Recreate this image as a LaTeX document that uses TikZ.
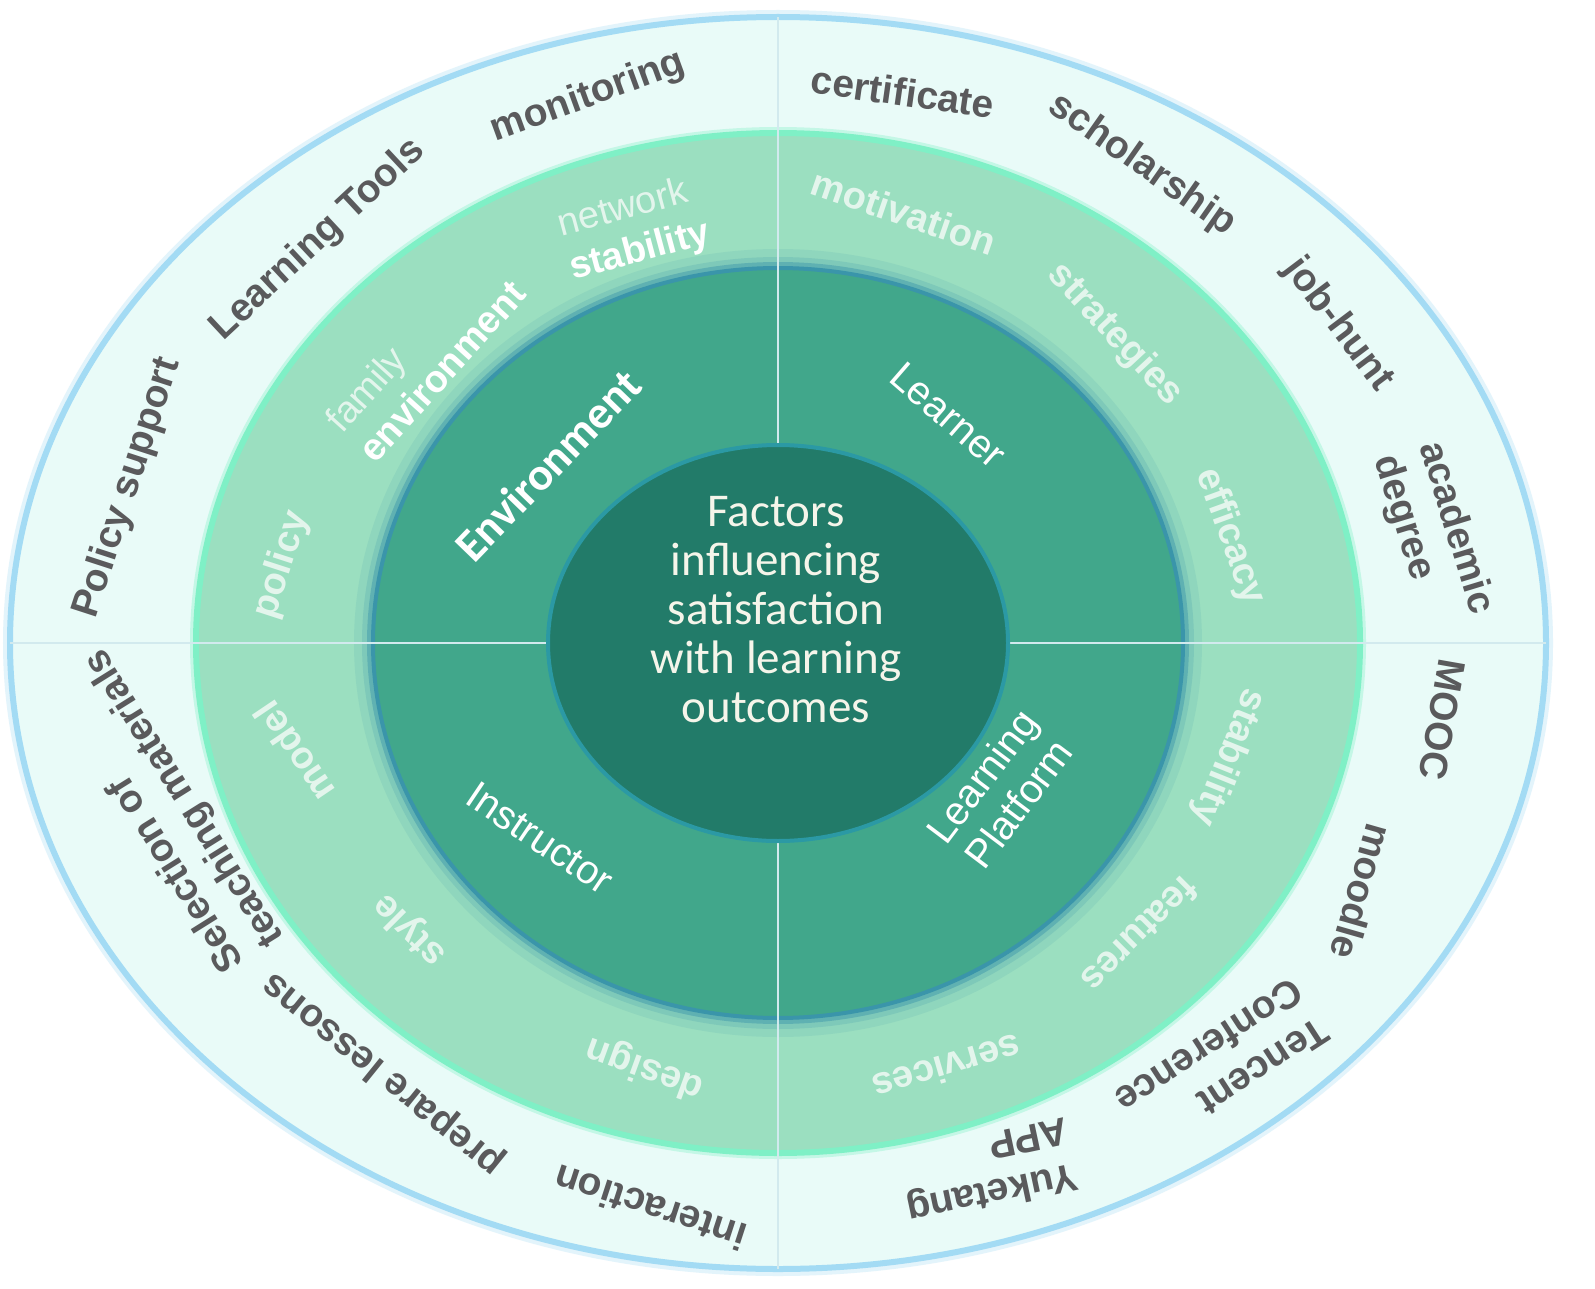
\documentclass[tikz,border=0pt]{standalone}
\usepackage{fontspec}
\setmainfont{Liberation Sans}
\newfontfamily\calibri{Carlito}
\usetikzlibrary{shapes.geometric}
\definecolor{skyline}{HTML}{A3DBF4}
\definecolor{outerfill}{HTML}{E9FBF8}
\definecolor{midfill}{HTML}{9BDFC0}
\definecolor{mintline}{HTML}{7FF0C6}
\definecolor{innerfill}{HTML}{41A78B}
\definecolor{innerglow}{HTML}{3A95AA}
\definecolor{corefill}{HTML}{227B69}
\definecolor{coreline}{HTML}{2B99A4}
\definecolor{crossline}{HTML}{D2EAEE}
\definecolor{outertext}{HTML}{5A5A5C}
\definecolor{midtext}{HTML}{E3F5EC}
\definecolor{coretext}{HTML}{F5F5EA}
\tikzset{
  ring/.style={ellipse, inner sep=0pt, outer sep=0pt},
  outerlbl/.style={font=\fontsize{19.5}{23.5}\selectfont\bfseries, text=outertext, align=left, inner sep=0pt},
  midlbl/.style={font=\fontsize{19}{22.5}\selectfont\bfseries, text=midtext, align=left, inner sep=0pt},
  innerlbl/.style={font=\fontsize{20}{23}\selectfont, text=white, align=center, inner sep=0pt}
}
\begin{document}
\begin{tikzpicture}[x=0.5pt,y=-0.5pt]
\fill[white] (0,0) rectangle (1595,1289);
\useasboundingbox (0,0) rectangle (1595,1289);

\draw[skyline, line width=7pt, opacity=.3] (778,643) ellipse [x radius=384pt, y radius=313pt];
\node[ring, minimum width=768pt, minimum height=626pt, fill=outerfill, draw=skyline, line width=3pt] (outerring) at (778,643) {};
\draw[mintline, line width=6pt, opacity=.35] (outerring.center) ellipse [x radius=291pt, y radius=255pt];
\node[ring, minimum width=582pt, minimum height=510pt, fill=midfill, draw=mintline, line width=3pt] (midring) at (outerring.center) {};
\draw[innerglow, line width=16pt, opacity=.12] (outerring.center) ellipse [x radius=204pt, y radius=189pt];
\draw[innerglow, line width=10pt, opacity=.2] (outerring.center) ellipse [x radius=203pt, y radius=188pt];
\draw[innerglow, line width=5pt, opacity=.45] (outerring.center) ellipse [x radius=203pt, y radius=188pt];
\node[ring, minimum width=405pt, minimum height=375pt, fill=innerfill, draw=innerglow, line width=2pt] (innerring) at (outerring.center) {};
\draw[crossline, line width=1.2pt] (outerring.north) -- (outerring.south);
\draw[crossline, line width=1.2pt] (outerring.west) -- (outerring.east);
\node[ring, minimum width=230pt, minimum height=198pt, fill=corefill, draw=coreline, line width=2pt] (core) at (outerring.center) {};
\node[font=\calibri\fontsize{23.5}{24.5}\selectfont, text=coretext, align=center] (factors) at (776,610)
  {Factors\\influencing\\satisfaction\\with learning\\outcomes};

\node[outerlbl, rotate=20] (monitoring) at (588,97) {monitoring};
\node[outerlbl, rotate=-8] (certificate) at (903,92) {certificate};
\node[outerlbl, rotate=43] (tools) at (318,240) {Learning Tools};
\node[outerlbl, rotate=-35] (scholarship) at (1142,165) {scholarship};
\node[outerlbl, rotate=72] (policysupport) at (128,488) {Policy support};
\node[outerlbl, rotate=-53] (jobhunt) at (1338,325) {job-hunt};
\node[outerlbl, rotate=-73] (degree) at (1433,535) {academic\\degree};
\node[outerlbl, rotate=-100] (mooc) at (1442,720) {MOOC};
\node[outerlbl, rotate=-106] (moodle) at (1362,892) {moodle};
\node[outerlbl, rotate=-147] (tencent) at (1222,1066) {Tencent\\Conference};
\node[outerlbl, rotate=-168] (yuketang) at (988,1172) {Yuketang\\APP};
\node[outerlbl, rotate=162] (interaction) at (650,1208) {interaction};
\node[outerlbl, rotate=141] (prepare) at (383,1074) {prepare lessons};
\node[outerlbl, rotate=122] (materials) at (165,810) {Selection of\\teaching materials};

\node[midlbl, rotate=15] (network) at (634,230) {{\mdseries network}\\{\color{white}stability}};
\node[midlbl, rotate=48] (family) at (425,356) {{\mdseries family}\\{\color{white}environment}};
\node[midlbl, rotate=72] (policy) at (282,565) {policy};
\node[midlbl, rotate=-19] (motivation) at (904,212) {motivation};
\node[midlbl, rotate=-47] (strategies) at (1115,335) {strategies};
\node[midlbl, rotate=-70] (efficacy) at (1230,537) {efficacy};
\node[midlbl, rotate=-112] (stability) at (1228,757) {stability};
\node[midlbl, rotate=-135] (features) at (1140,935) {features};
\node[midlbl, rotate=-164] (services) at (947,1068) {services};
\node[midlbl, rotate=160] (design) at (645,1068) {design};
\node[midlbl, rotate=135] (style) at (410,930) {style};
\node[midlbl, rotate=124] (model) at (294,752) {model};

\node[innerlbl, font=\calibri\bfseries\fontsize{23}{26}\selectfont, rotate=46] (environment) at (548,465) {Environment};
\node[innerlbl, rotate=-41] (learner) at (948,415) {Learner};
\node[innerlbl, rotate=53] (platform) at (1000,790) {Learning\\Platform};
\node[innerlbl, rotate=-34] (instructor) at (540,838) {Instructor};
\end{tikzpicture}
\end{document}
